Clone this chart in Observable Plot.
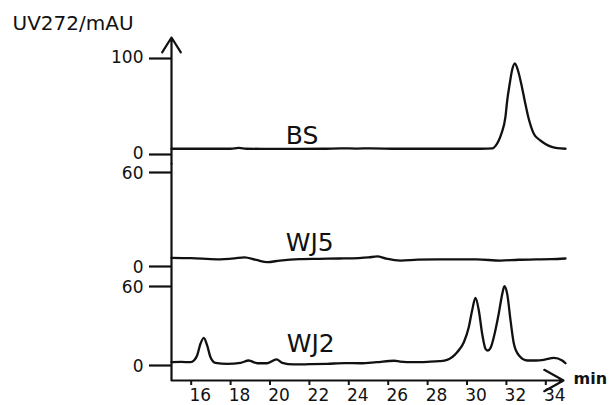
<!DOCTYPE html>
<html>
<head>
<meta charset="utf-8">
<script src="https://cdn.jsdelivr.net/npm/d3@7"></script>
<script src="https://cdn.jsdelivr.net/npm/@observablehq/plot@0.6"></script>
<style>
html, body { margin: 0; padding: 0; background: #fff; }
#chart { width: 614px; height: 405px; overflow: hidden; }
#chart svg { display: block; overflow: visible; }
</style>
</head>
<body>
<div id="chart"></div>
<script>
// ---- data (retention time in min, absorbance in mAU) ----
const timeBS = [15, 16.5, 18.0, 18.42, 18.8, 20.5, 22.7, 23.6, 24.4, 25.1, 26.5, 28, 29.5, 30.7, 31.3, 31.45, 31.6, 31.75, 31.95, 32.04, 32.17, 32.29, 32.43, 32.58, 32.75, 32.93, 33.11, 33.39, 33.7, 33.98, 34.3, 34.58, 35];
const absBS  = [6.0, 6.0, 6.0, 6.8, 6.0, 5.9, 6.0, 6.4, 6.2, 6.4, 6.0, 6.0, 6.0, 6.0, 6.4, 9.0, 14, 22, 39, 56, 74, 88, 95, 88, 74, 56, 39, 21.6, 15, 11, 8, 6.6, 6.0];

const timeWJ5 = [15, 16.0, 17.3, 18.2, 18.7, 19.3, 19.86, 20.5, 21.5, 22.5, 23.5, 24.5, 25.0, 25.44, 25.9, 26.62, 27.5, 28.5, 29.5, 30.5, 31.7, 32.6, 33.5, 34.3, 35];
const absWJ5  = [5.5, 5.3, 4.6, 5.2, 5.8, 4.2, 2.8, 3.8, 4.7, 4.9, 5.1, 5.4, 5.8, 6.4, 5.0, 3.8, 4.4, 4.6, 4.5, 4.5, 3.8, 4.3, 4.5, 4.7, 5.1];

const timeWJ2 = [15, 15.5, 15.96, 16.15, 16.3, 16.47, 16.64, 16.81, 16.98, 17.23, 17.83, 18.5, 18.92, 19.35, 19.86, 20.33, 20.62, 21.2, 22.0, 22.9, 23.8, 24.6, 25.4, 26.3, 26.6, 27.3, 28.0, 28.6, 28.99, 29.5, 29.84, 30.09, 30.26, 30.43, 30.6, 30.77, 30.94, 31.06, 31.2, 31.36, 31.61, 31.79, 31.9, 32.04, 32.21, 32.38, 32.64, 33.06, 33.5, 33.9, 34.41, 34.83, 35];
const absWJ2  = [2.5, 2.7, 2.5, 4.0, 7.6, 16.5, 21.0, 15.2, 6.3, 2.0, 1.3, 2.0, 3.8, 1.7, 1.7, 4.6, 2.0, 0.8, 1.0, 1.3, 1.8, 1.7, 2.5, 3.6, 3.0, 2.5, 2.8, 3.3, 4.3, 10.1, 17.7, 29.1, 41.8, 51.4, 41.8, 24.1, 12.7, 11.4, 13.5, 21.5, 39.3, 54.4, 60.2, 54.4, 34.2, 16.5, 7.6, 3.8, 3.8, 4.3, 5.8, 3.8, 1.7];

const seriesNames = ["BS", "WJ5", "WJ2"];
const ticksBS = [0, 100];
const ticksWJ5 = [0, 60];
const ticksWJ2 = [0, 60];
const xTicks = [16, 18, 20, 22, 24, 26, 28, 30, 32, 34];
const yTitle = "UV272/mAU";
const xTitle = "min";

// ---- layout / style ----
const INK = "#111";
const X_DOMAIN = [15, 35];
const X_AXIS_END = 34.9;
const FONT = "DejaVu Sans";

function rows(times, values) {
  return times.map((t, i) => ({t, v: values[i]}));
}

function panel({height, marginTop, marginBottom, yDomain, times, values, ticks, name, labelAt, top, bottom, tickDy}) {
  const marks = [];
  if (top) {
    marks.push(Plot.arrow([{x1: X_DOMAIN[0], x2: X_DOMAIN[0], y1: yDomain[0], y2: yDomain[1]}],
      {x1: "x1", x2: "x2", y1: "y1", y2: "y2", stroke: INK, strokeWidth: 2.2, headLength: 12, headAngle: 64}));
    marks.push(Plot.text([yTitle], {frameAnchor: "top-left", dx: -159, dy: -7.5, textAnchor: "start",
      lineAnchor: "bottom", fontSize: 20, fill: INK}));
  } else {
    marks.push(Plot.ruleX([X_DOMAIN[0]], {stroke: INK, strokeWidth: 2.2}));
  }
  marks.push(Plot.axisY(ticks, {anchor: "left", tickSize: 22, tickPadding: 6, strokeWidth: 2.2,
    color: INK, fontSize: 17, label: null, fill: "none"}));
  marks.push(Plot.axisY(ticks, {anchor: "left", tickSize: 0, tickPadding: 28, dy: tickDy || 0,
    color: INK, fontSize: 17, label: null}));
  marks.push(Plot.line(rows(times, values), {x: "t", y: "v", stroke: INK, strokeWidth: 2.3,
    curve: "monotone-x", strokeLinejoin: "round"}));
  marks.push(Plot.text([name], {x: () => labelAt[0], y: () => labelAt[1], textAnchor: "start",
    lineAnchor: "bottom", fontSize: 25, fill: INK}));
  if (bottom) {
    marks.push(Plot.arrow([{x1: X_DOMAIN[0], x2: X_AXIS_END, y1: yDomain[0], y2: yDomain[0]}],
      {x1: "x1", x2: "x2", y1: "y1", y2: "y2", stroke: INK, strokeWidth: 2.2, headLength: 15, headAngle: 58}));
    marks.push(Plot.axisX(xTicks, {anchor: "bottom", tickSize: 5, strokeWidth: 2, color: INK,
      tickFormat: () => "", label: null}));
    marks.push(Plot.axisX(xTicks, {anchor: "bottom", tickSize: 0, tickPadding: 8, dx: 9, color: INK,
      fontSize: 17, label: null}));
    marks.push(Plot.text([xTitle], {frameAnchor: "bottom-right", dx: 8, dy: 3.3, textAnchor: "start",
      lineAnchor: "bottom", fontSize: 16, fontWeight: "bold", fill: INK}));
  }
  return Plot.plot({
    width: 614, height,
    marginLeft: 171, marginRight: 49, marginTop, marginBottom,
    x: {domain: X_DOMAIN, axis: bottom ? undefined : null},
    y: {domain: yDomain, axis: null},
    style: {fontFamily: FONT, color: INK, background: "transparent", overflow: "visible"},
    marks
  });
}

const chart = document.getElementById("chart");
chart.append(panel({height: 163, marginTop: 37, marginBottom: 0, yDomain: [-9.375, 121.875],
  times: timeBS, values: absBS, ticks: ticksBS, name: seriesNames[0], labelAt: [20.8, 11.1], top: true, tickDy: -1}));
chart.append(panel({height: 113, marginTop: 0, marginBottom: 0, yDomain: [-6.383, 65.745],
  times: timeWJ5, values: absWJ5, ticks: ticksWJ5, name: seriesNames[1], labelAt: [20.8, 10.2], tickDy: 1.5}));
chart.append(panel({height: 129, marginTop: 0, marginBottom: 25, yDomain: [-11.392, 67.595],
  times: timeWJ2, values: absWJ2, ticks: ticksWJ2, name: seriesNames[2], labelAt: [20.85, 9.9], bottom: true, tickDy: 1}));
</script>
</body>
</html>
